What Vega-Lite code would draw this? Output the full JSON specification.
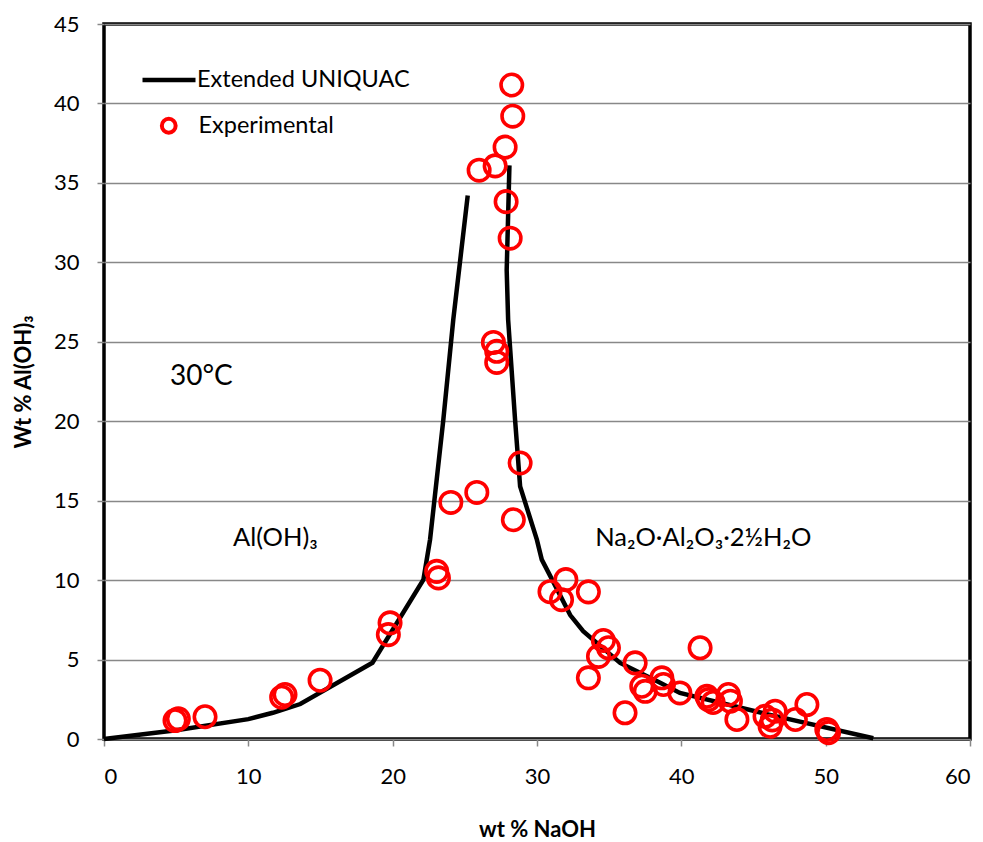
{
  "$schema": "https://vega.github.io/schema/vega-lite/v6.json",
  "width": 866,
  "height": 715,
  "autosize": {"type": "none"},
  "padding": {"left": 104, "top": 24, "right": 13, "bottom": 103},
  "background": "white",
  "config": {
    "font": "Lato",
    "view": {"stroke": "black", "strokeWidth": 3.5},
    "axis": {
      "labelFont": "Lato", "labelFontSize": 22, "labelColor": "black",
      "titleFont": "Lato", "titleFontSize": 22, "titleFontWeight": "bold", "titleColor": "black",
      "tickColor": "#888888", "tickSize": 7, "tickWidth": 1.5,
      "domain": false, "gridColor": "#888888", "gridWidth": 1.5
    },
    "axisX": {"grid": false, "labelPadding": 20, "titlePadding": 32},
    "axisY": {"grid": true, "labelPadding": 18, "titlePadding": 18},
    "legend": {"labelFont": "Lato", "labelFontSize": 23.5, "labelColor": "black", "padding": 0, "labelLimit": 500}
  },
  "datasets": {
    "model": [
      {"branch": "L", "i": 1, "series": "Extended UNIQUAC", "naoh": 0, "aloh": 0},
      {"branch": "L", "i": 2, "series": "Extended UNIQUAC", "naoh": 5, "aloh": 0.55},
      {"branch": "L", "i": 3, "series": "Extended UNIQUAC", "naoh": 10, "aloh": 1.25},
      {"branch": "L", "i": 4, "series": "Extended UNIQUAC", "naoh": 11.7, "aloh": 1.65},
      {"branch": "L", "i": 5, "series": "Extended UNIQUAC", "naoh": 13.6, "aloh": 2.2},
      {"branch": "L", "i": 6, "series": "Extended UNIQUAC", "naoh": 18.6, "aloh": 4.8},
      {"branch": "L", "i": 7, "series": "Extended UNIQUAC", "naoh": 22.13, "aloh": 10.03},
      {"branch": "L", "i": 8, "series": "Extended UNIQUAC", "naoh": 22.59, "aloh": 12.55},
      {"branch": "L", "i": 9, "series": "Extended UNIQUAC", "naoh": 23.51, "aloh": 20.1},
      {"branch": "L", "i": 10, "series": "Extended UNIQUAC", "naoh": 24.2, "aloh": 26.4},
      {"branch": "L", "i": 11, "series": "Extended UNIQUAC", "naoh": 25.2, "aloh": 34.2},
      {"branch": "R", "i": 1, "series": "Extended UNIQUAC", "naoh": 28.09, "aloh": 36.1},
      {"branch": "R", "i": 2, "series": "Extended UNIQUAC", "naoh": 27.9, "aloh": 29.5},
      {"branch": "R", "i": 3, "series": "Extended UNIQUAC", "naoh": 28.0, "aloh": 26.4},
      {"branch": "R", "i": 4, "series": "Extended UNIQUAC", "naoh": 28.48, "aloh": 20.1},
      {"branch": "R", "i": 5, "series": "Extended UNIQUAC", "naoh": 28.83, "aloh": 15.9},
      {"branch": "R", "i": 6, "series": "Extended UNIQUAC", "naoh": 29.99, "aloh": 12.55},
      {"branch": "R", "i": 7, "series": "Extended UNIQUAC", "naoh": 30.33, "aloh": 11.29},
      {"branch": "R", "i": 8, "series": "Extended UNIQUAC", "naoh": 31.11, "aloh": 9.92},
      {"branch": "R", "i": 9, "series": "Extended UNIQUAC", "naoh": 32.3, "aloh": 7.8},
      {"branch": "R", "i": 10, "series": "Extended UNIQUAC", "naoh": 33.2, "aloh": 6.78},
      {"branch": "R", "i": 11, "series": "Extended UNIQUAC", "naoh": 35.76, "aloh": 4.79},
      {"branch": "R", "i": 12, "series": "Extended UNIQUAC", "naoh": 38.5, "aloh": 3.55},
      {"branch": "R", "i": 13, "series": "Extended UNIQUAC", "naoh": 39.9, "aloh": 2.9},
      {"branch": "R", "i": 14, "series": "Extended UNIQUAC", "naoh": 46.0, "aloh": 1.55},
      {"branch": "R", "i": 15, "series": "Extended UNIQUAC", "naoh": 53.3, "aloh": 0.05}
    ],
    "exp": [
      {"series": "Experimental", "naoh": 4.92, "aloh": 1.16},
      {"series": "Experimental", "naoh": 5.15, "aloh": 1.27},
      {"series": "Experimental", "naoh": 7.0, "aloh": 1.4},
      {"series": "Experimental", "naoh": 12.31, "aloh": 2.63},
      {"series": "Experimental", "naoh": 12.54, "aloh": 2.8},
      {"series": "Experimental", "naoh": 14.97, "aloh": 3.7},
      {"series": "Experimental", "naoh": 19.82, "aloh": 7.31},
      {"series": "Experimental", "naoh": 19.7, "aloh": 6.57},
      {"series": "Experimental", "naoh": 23.05, "aloh": 10.55},
      {"series": "Experimental", "naoh": 23.17, "aloh": 10.14},
      {"series": "Experimental", "naoh": 24.03, "aloh": 14.89},
      {"series": "Experimental", "naoh": 25.83, "aloh": 15.52},
      {"series": "Experimental", "naoh": 28.25, "aloh": 41.16},
      {"series": "Experimental", "naoh": 28.32, "aloh": 39.2},
      {"series": "Experimental", "naoh": 27.79, "aloh": 37.25},
      {"series": "Experimental", "naoh": 27.1, "aloh": 36.07},
      {"series": "Experimental", "naoh": 25.99, "aloh": 35.8},
      {"series": "Experimental", "naoh": 27.86, "aloh": 33.82},
      {"series": "Experimental", "naoh": 28.14, "aloh": 31.52},
      {"series": "Experimental", "naoh": 26.98, "aloh": 24.96},
      {"series": "Experimental", "naoh": 27.21, "aloh": 24.4},
      {"series": "Experimental", "naoh": 27.21, "aloh": 23.7},
      {"series": "Experimental", "naoh": 28.83, "aloh": 17.37},
      {"series": "Experimental", "naoh": 28.36, "aloh": 13.8},
      {"series": "Experimental", "naoh": 30.9, "aloh": 9.27},
      {"series": "Experimental", "naoh": 32.0, "aloh": 10.03},
      {"series": "Experimental", "naoh": 31.7, "aloh": 8.77},
      {"series": "Experimental", "naoh": 33.56, "aloh": 9.26},
      {"series": "Experimental", "naoh": 34.6, "aloh": 6.2},
      {"series": "Experimental", "naoh": 34.95, "aloh": 5.74},
      {"series": "Experimental", "naoh": 34.26, "aloh": 5.2},
      {"series": "Experimental", "naoh": 33.56, "aloh": 3.85},
      {"series": "Experimental", "naoh": 36.8, "aloh": 4.79},
      {"series": "Experimental", "naoh": 37.26, "aloh": 3.32},
      {"series": "Experimental", "naoh": 37.5, "aloh": 3.0},
      {"series": "Experimental", "naoh": 38.65, "aloh": 3.85},
      {"series": "Experimental", "naoh": 38.76, "aloh": 3.43},
      {"series": "Experimental", "naoh": 39.9, "aloh": 2.9},
      {"series": "Experimental", "naoh": 36.1, "aloh": 1.65},
      {"series": "Experimental", "naoh": 41.3, "aloh": 5.74},
      {"series": "Experimental", "naoh": 41.77, "aloh": 2.69},
      {"series": "Experimental", "naoh": 41.88, "aloh": 2.48},
      {"series": "Experimental", "naoh": 42.2, "aloh": 2.3},
      {"series": "Experimental", "naoh": 43.26, "aloh": 2.8},
      {"series": "Experimental", "naoh": 43.4, "aloh": 2.38},
      {"series": "Experimental", "naoh": 43.85, "aloh": 1.23},
      {"series": "Experimental", "naoh": 45.8, "aloh": 1.43},
      {"series": "Experimental", "naoh": 46.15, "aloh": 0.8},
      {"series": "Experimental", "naoh": 46.5, "aloh": 1.75},
      {"series": "Experimental", "naoh": 46.3, "aloh": 1.2},
      {"series": "Experimental", "naoh": 47.9, "aloh": 1.23},
      {"series": "Experimental", "naoh": 48.7, "aloh": 2.17},
      {"series": "Experimental", "naoh": 50.08, "aloh": 0.6},
      {"series": "Experimental", "naoh": 50.2, "aloh": 0.4}
    ]
  },
  "layer": [
    {
      "data": {"name": "model"},
      "mark": {"type": "line", "strokeWidth": 4.5, "strokeCap": "butt"},
      "encoding": {
        "x": {"field": "naoh", "type": "quantitative", "scale": {"domain": [0, 60], "nice": false}, "axis": {"title": "wt % NaOH", "values": [0, 10, 20, 30, 40, 50, 60]}},
        "y": {"field": "aloh", "type": "quantitative", "scale": {"domain": [0, 45], "nice": false}, "axis": {"title": "Wt % Al(OH)₃", "values": [0, 5, 10, 15, 20, 25, 30, 35, 40, 45]}},
        "detail": {"field": "branch"},
        "order": {"field": "i", "type": "quantitative"},
        "stroke": {
          "field": "series", "type": "nominal",
          "scale": {"domain": ["Extended UNIQUAC"], "range": ["black"]},
          "legend": {
            "orient": "none", "legendX": 36, "legendY": 27, "title": null,
            "symbolType": "stroke", "symbolSize": 2809, "symbolStrokeWidth": 4.5,
            "symbolStrokeColor": "black", "labelOffset": -1
          }
        }
      }
    },
    {
      "data": {"name": "exp"},
      "mark": {"type": "point", "filled": false, "color": "#ff0000", "strokeWidth": 3.6, "size": 460, "opacity": 1},
      "encoding": {
        "x": {"field": "naoh", "type": "quantitative", "axis": {"title": "wt % NaOH", "values": [0, 10, 20, 30, 40, 50, 60]}},
        "y": {"field": "aloh", "type": "quantitative", "axis": {"title": "Wt % Al(OH)₃", "values": [0, 5, 10, 15, 20, 25, 30, 35, 40, 45]}},
        "shape": {
          "field": "series", "type": "nominal",
          "scale": {"domain": ["Experimental"], "range": ["circle"]},
          "legend": {
            "orient": "none", "legendX": 53, "legendY": 90, "title": null,
            "symbolType": "circle", "symbolSize": 190, "symbolStrokeWidth": 4,
            "symbolStrokeColor": "#ff0000", "symbolFillColor": "transparent", "symbolOpacity": 1, "labelOffset": 18
          }
        }
      }
    },
    {
      "data": {"values": [{}]},
      "mark": {"type": "text", "font": "Lato", "fontSize": 28, "align": "left", "baseline": "alphabetic", "color": "black"},
      "encoding": {
        "x": {"datum": 4.57, "type": "quantitative"},
        "y": {"datum": 22.3, "type": "quantitative"},
        "text": {"value": "30°C"}
      }
    },
    {
      "data": {"values": [{}]},
      "mark": {"type": "text", "font": "Lato", "fontSize": 25.5, "align": "left", "baseline": "alphabetic", "color": "black"},
      "encoding": {
        "x": {"datum": 8.94, "type": "quantitative"},
        "y": {"datum": 12.13, "type": "quantitative"},
        "text": {"value": "Al(OH)₃"}
      }
    },
    {
      "data": {"values": [{}]},
      "mark": {"type": "text", "font": "Lato", "fontSize": 25.5, "align": "left", "baseline": "alphabetic", "color": "black"},
      "encoding": {
        "x": {"datum": 34.03, "type": "quantitative"},
        "y": {"datum": 12.13, "type": "quantitative"},
        "text": {"value": "Na₂O·Al₂O₃·2½H₂O"}
      }
    }
  ]
}
